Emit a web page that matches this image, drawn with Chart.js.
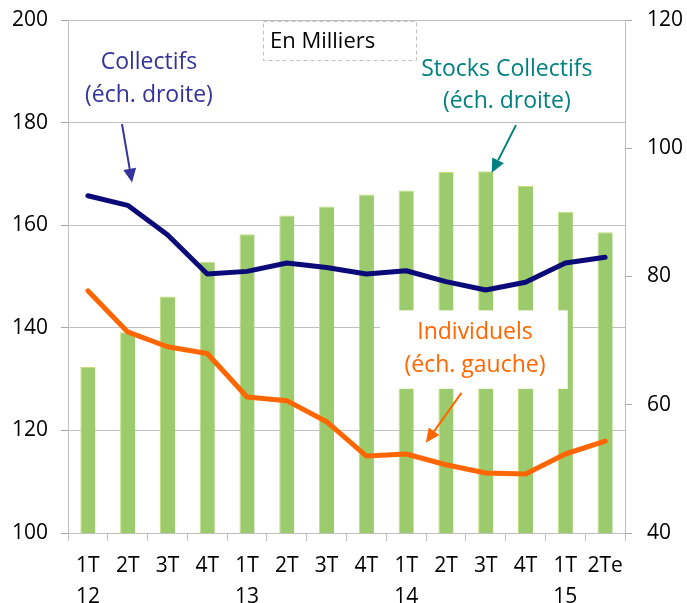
<!DOCTYPE html>
<html>
<head>
<meta charset="utf-8">
<script src="https://cdn.jsdelivr.net/npm/chart.js@4/dist/chart.umd.min.js"></script>
<style>
  html, body { margin: 0; padding: 0; background: #fff; }
  #wrap { width: 687px; height: 603px; position: relative; }
</style>
</head>
<body>
<div id="wrap"><canvas id="c" width="687" height="603"></canvas></div>
<script>
// ---- Data ----
const quarters = [['1T','12'],['2T',''],['3T',''],['4T',''],['1T','13'],['2T',''],['3T',''],['4T',''],['1T','14'],['2T',''],['3T',''],['4T',''],['1T','15'],['2Te','']];
const stocksCollectifs = [65.9, 71.3, 76.9, 82.3, 86.6, 89.5, 90.9, 92.8, 93.4, 96.3, 96.4, 94.1, 90.1, 86.9]; // right axis
const collectifs = [92.6, 91.1, 86.5, 80.4, 80.8, 82.1, 81.4, 80.4, 80.9, 79.2, 77.9, 79.1, 82.1, 83.0];       // right axis
const individuels = [147.2, 139.2, 136.3, 135.0, 126.5, 125.8, 121.7, 115.0, 115.4, 113.3, 111.7, 111.5, 115.4, 117.9]; // left axis
const leftTicks = [100, 120, 140, 160, 180, 200];
const rightTicks = [40, 60, 80, 100, 120];

const FONT = '"Open Sans", "DejaVu Sans", sans-serif';

// Annotation plugin (positions expressed in scale units)
const annotations = {
  id: 'annotations',
  afterDatasetsDraw(chart) {
    const ctx = chart.ctx;
    const xs = chart.scales.x, yl = chart.scales.yL;
    const X = v => xs.getPixelForValue(v);
    const Y = v => yl.getPixelForValue(v);
    ctx.save();
    // "En Milliers" box
    const bx0 = X(4.4), bx1 = X(8.24), by0 = Y(199.8), by1 = Y(192.2);
    ctx.fillStyle = '#fff';
    ctx.fillRect(bx0, by0, bx1 - bx0, by1 - by0);
    ctx.setLineDash([4, 3]);
    ctx.strokeStyle = '#BFBFBF';
    ctx.lineWidth = 1;
    ctx.strokeRect(Math.round(bx0) + 0.5, Math.round(by0) + 0.5, Math.round(bx1 - bx0), Math.round(by1 - by0));
    ctx.setLineDash([]);
    ctx.font = '22px ' + FONT;
    ctx.fillStyle = '#000';
    ctx.textBaseline = 'middle';
    ctx.textAlign = 'left';
    ctx.fillText('En Milliers', bx0 + 7, (by0 + by1) / 2 + 1);

    // Individuels white box
    const ix0 = X(7.34), ix1 = X(12.06), iy0 = Y(143.4), iy1 = Y(128.1);
    ctx.fillStyle = '#fff';
    ctx.fillRect(ix0, iy0, ix1 - ix0, iy1 - iy0);

    ctx.font = '23px ' + FONT;
    ctx.textAlign = 'center';
    function label(lines, cx, ys, color) {
      ctx.fillStyle = color;
      lines.forEach((t, i) => ctx.fillText(t, X(cx), Y(ys[i])));
    }
    function arrow(x0, y0, x1, y1, color) {
      const p0 = [X(x0), Y(y0)], p1 = [X(x1), Y(y1)];
      const a = Math.atan2(p1[1] - p0[1], p1[0] - p0[0]);
      const hl = 14, hw = 6.5;
      const bx = p1[0] - hl * Math.cos(a), by = p1[1] - hl * Math.sin(a);
      ctx.strokeStyle = color; ctx.fillStyle = color; ctx.lineWidth = 2;
      ctx.beginPath(); ctx.moveTo(p0[0], p0[1]); ctx.lineTo(bx, by); ctx.stroke();
      ctx.beginPath();
      ctx.moveTo(p1[0], p1[1]);
      ctx.lineTo(bx + hw * Math.sin(a), by - hw * Math.cos(a));
      ctx.lineTo(bx - hw * Math.sin(a), by + hw * Math.cos(a));
      ctx.closePath(); ctx.fill();
    }
    label(['Collectifs', '(éch. droite)'], 1.535, [191.8, 185.2], '#333399');
    arrow(0.857, 179.7, 1.11, 168.3, '#333399');
    label(['Stocks Collectifs', '(éch. droite)'], 10.53, [190.3, 184.2], '#008080');
    arrow(10.76, 179.5, 10.15, 170.2, '#008080');
    label(['Individuels', '(éch. gauche)'], 9.73, [139.0, 132.6], '#FF6600');
    arrow(9.39, 127.3, 8.495, 117.6, '#FF6600');
    ctx.restore();
  }
};

function noPad(s) { s.paddingTop = 0; s.paddingBottom = 0; }

new Chart(document.getElementById('c'), {
  type: 'bar',
  data: {
    labels: quarters,
    datasets: [
      {
        type: 'line', label: 'Collectifs', data: collectifs, yAxisID: 'yR',
        borderColor: '#0A0A78', borderWidth: 5, pointRadius: 0, tension: 0, order: 1,
        borderJoinStyle: 'round', borderCapStyle: 'round'
      },
      {
        type: 'line', label: 'Individuels', data: individuels, yAxisID: 'yL',
        borderColor: '#FF6600', borderWidth: 5, pointRadius: 0, tension: 0, order: 1,
        borderJoinStyle: 'round', borderCapStyle: 'round'
      },
      {
        type: 'bar', label: 'Stocks Collectifs', data: stocksCollectifs, yAxisID: 'yR',
        backgroundColor: '#9BCB6C', borderColor: '#C5DF7A', borderWidth: {top: 1, left: 1, right: 0, bottom: 0},
        categoryPercentage: 1, barPercentage: 0.38, order: 2
      }
    ]
  },
  options: {
    responsive: false,
    animation: false,
    devicePixelRatio: 1,
    layout: { padding: { top: 20, left: 0, right: 0, bottom: 0 } },
    plugins: { legend: { display: false }, tooltip: { enabled: false } },
    scales: {
      x: {
        offset: true,
        grid: { display: true, drawOnChartArea: false, drawTicks: true, tickLength: 8, offset: true, color: '#BFBFBF' },
        border: { display: true, color: '#BFBFBF' },
        ticks: { color: '#000', font: { family: FONT, size: 21, lineHeight: 1.45 }, padding: 10, maxRotation: 0, autoSkip: false },
        afterFit(s) { s.height = 70; s.paddingLeft = 0; s.paddingRight = 0; }
      },
      yL: {
        position: 'left', min: 100, max: 200,
        afterBuildTicks(s) { s.ticks = leftTicks.map(v => ({ value: v })); },
        grid: { color: '#BFBFBF', borderDash: [5, 4], tickLength: 7, tickBorderDash: [], tickColor: '#A6A6A6' },
        border: { display: true, color: '#BFBFBF' },
        ticks: { color: '#000', font: { family: FONT, size: 21 }, padding: 13 },
        afterFit(s) { s.width = 68; noPad(s); }
      },
      yR: {
        position: 'right', min: 40, max: 120,
        afterBuildTicks(s) { s.ticks = rightTicks.map(v => ({ value: v })); },
        grid: { drawOnChartArea: false, tickLength: 7, color: '#A6A6A6' },
        border: { display: true, color: '#BFBFBF' },
        ticks: { color: '#000', font: { family: FONT, size: 21 }, padding: 15 },
        afterFit(s) { s.width = 62; noPad(s); }
      }
    }
  },
  plugins: [annotations]
});
</script>
</body>
</html>
